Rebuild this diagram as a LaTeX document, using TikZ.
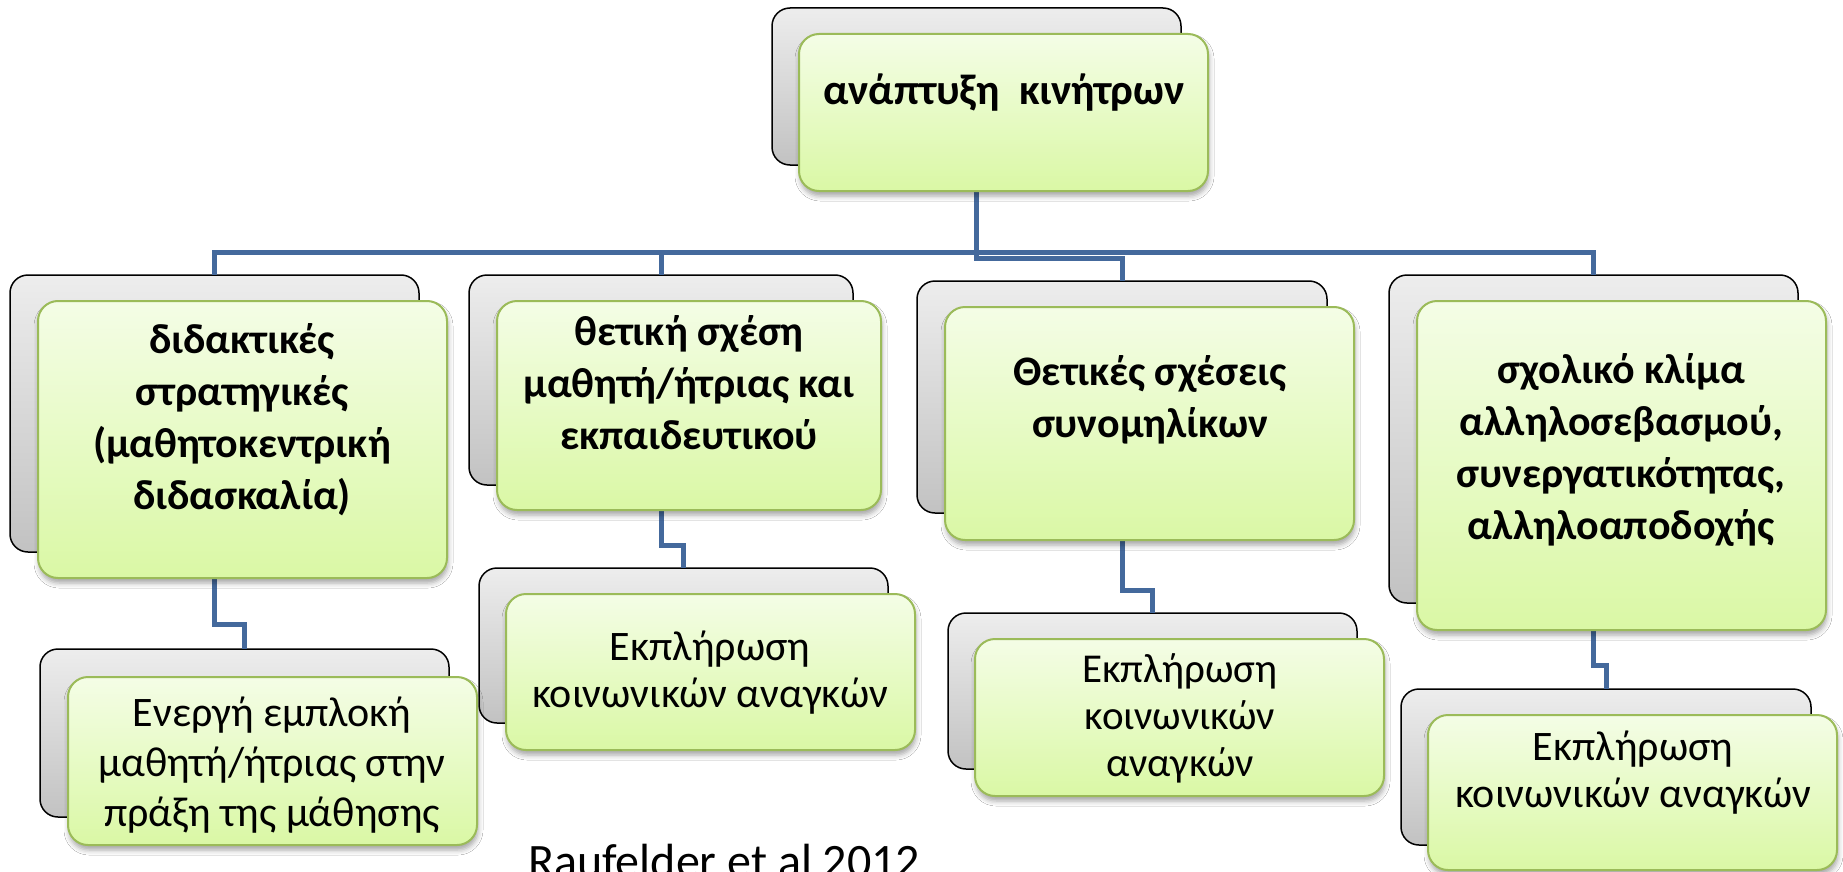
\documentclass[tikz,border=0pt]{standalone}
\usepackage{fontspec}
\setmainfont{Carlito}
\usetikzlibrary{shadows.blur}

\definecolor{linkblue}{HTML}{44699C}
\definecolor{greentop}{HTML}{F4FDE6}
\definecolor{greenbot}{HTML}{DAF8A5}
\definecolor{greenedge}{HTML}{9BBB59}
\definecolor{graytop}{HTML}{EDEDED}
\definecolor{graybot}{HTML}{C2C2C2}

\tikzset{
  backcard/.style={draw=black, line width=1.5pt, rounded corners=18pt,
    top color=graytop, bottom color=graybot, inner sep=0pt, outer sep=0pt},
  frontcard/.style={draw=greenedge, line width=2pt, rounded corners=20pt,
    top color=greentop, bottom color=greenbot, inner sep=0pt, outer sep=0pt,
    blur shadow={shadow xshift=1pt, shadow yshift=-5pt, shadow blur radius=5pt, shadow opacity=35}},
  headtext/.style={align=center, font=\fontsize{42}{52}\selectfont\bfseries, inner sep=0pt},
  leaftext/.style={align=center, font=\fontsize{42}{47}\selectfont, inner sep=0pt},
  link/.style={draw=linkblue, line width=5pt, line join=miter},
}

\begin{document}
\begin{tikzpicture}[x=1pt, y=-1pt]
\useasboundingbox (0,0) rectangle (1843,872);
\fill[white] (0,0) rectangle (1843,872);

% back cards
\node[backcard, minimum width=409pt, minimum height=157pt] (g0) at (976.5,86.5) {};
\node[backcard, minimum width=409pt, minimum height=277pt] (g1) at (214.5,413.5) {};
\node[backcard, minimum width=384pt, minimum height=210pt] (g2) at (661,380) {};
\node[backcard, minimum width=410pt, minimum height=232pt] (g3) at (1122,397) {};
\node[backcard, minimum width=409pt, minimum height=328pt] (g4) at (1593.5,439) {};
\node[backcard, minimum width=409pt, minimum height=168pt] (h1) at (244.5,733) {};
\node[backcard, minimum width=409pt, minimum height=155pt] (h2) at (683.5,645.5) {};
\node[backcard, minimum width=409pt, minimum height=156pt] (h3) at (1152.5,691) {};
\node[backcard, minimum width=410pt, minimum height=156pt] (h4) at (1606,767) {};

% connectors
\coordinate (bar) at (0,252);
\coordinate (rootbar) at (0,258);
\draw[link] (g1.north) -- (g1.north |- bar) -- (g4.north |- bar) -- (g4.north);
\draw[link] (g2.north |- bar) -- (g2.north);
\draw[link] (g0.south) -- (g0.south |- rootbar) -| (g3.north);
\draw[link] (g1.south) -- ++(0,72) -| (h1.north);
\draw[link] (g2.south) -- ++(0,60) -| (h2.north);
\draw[link] (g3.south) -- ++(0,77) -| (h3.north);
\draw[link] (g4.south) -- ++(0,62) -| (h4.north);

% front cards
\node[frontcard, minimum width=409pt, minimum height=157pt] (f0) at (1003.5,112.5) {};
\node[frontcard, minimum width=409pt, minimum height=277pt] (f1) at (242.5,439.5) {};
\node[frontcard, minimum width=384pt, minimum height=209pt] (f2) at (689,405.5) {};
\node[frontcard, minimum width=409pt, minimum height=233pt] (f3) at (1149.5,423.5) {};
\node[frontcard, minimum width=409pt, minimum height=329pt] (f4) at (1621.5,465.5) {};
\node[frontcard, minimum width=409pt, minimum height=168pt] (k1) at (272.5,761) {};
\node[frontcard, minimum width=409pt, minimum height=156pt] (k2) at (710.5,672) {};
\node[frontcard, minimum width=409pt, minimum height=157pt] (k3) at (1179.5,717.5) {};
\node[frontcard, minimum width=409pt, minimum height=155pt] (k4) at (1632.5,792.5) {};

% labels
\node[headtext, font=\fontsize{43}{54}\selectfont\bfseries] (t0) at (1004,93) {ανάπτυξη\ \ κινήτρων};
\node[headtext] (t1) at (242,420) {διδακτικές\\στρατηγικές\\(μαθητοκεντρική\\διδασκαλία)};
\node[headtext] (t2) at (689,383) {θετική σχέση\\μαθητή/ήτριας και\\εκπαιδευτικού};
\node[headtext] (t3) at (1150,400) {Θετικές σχέσεις\\συνομηλίκων};
\node[headtext] (t4) at (1621,450) {σχολικό κλίμα\\αλληλοσεβασμού,\\συνεργατικότητας,\\αλληλοαποδοχής};
\node[leaftext, font=\fontsize{42}{50}\selectfont] (u1) at (272,765) {Ενεργή εμπλοκή\\μαθητή/ήτριας στην\\πράξη της μάθησης};
\node[leaftext] (u2) at (710,673) {Εκπλήρωση\\κοινωνικών αναγκών};
\node[leaftext, font=\fontsize{41}{47}\selectfont] (u3) at (1180,718) {Εκπλήρωση\\κοινωνικών\\αναγκών};
\node[leaftext] (u4) at (1633,773) {Εκπλήρωση\\κοινωνικών αναγκών};

\node[anchor=base west, inner sep=0pt, font=\fontsize{48}{54}\selectfont] (cite) at (528,877) {Raufelder et al 2012};
\end{tikzpicture}
\end{document}
